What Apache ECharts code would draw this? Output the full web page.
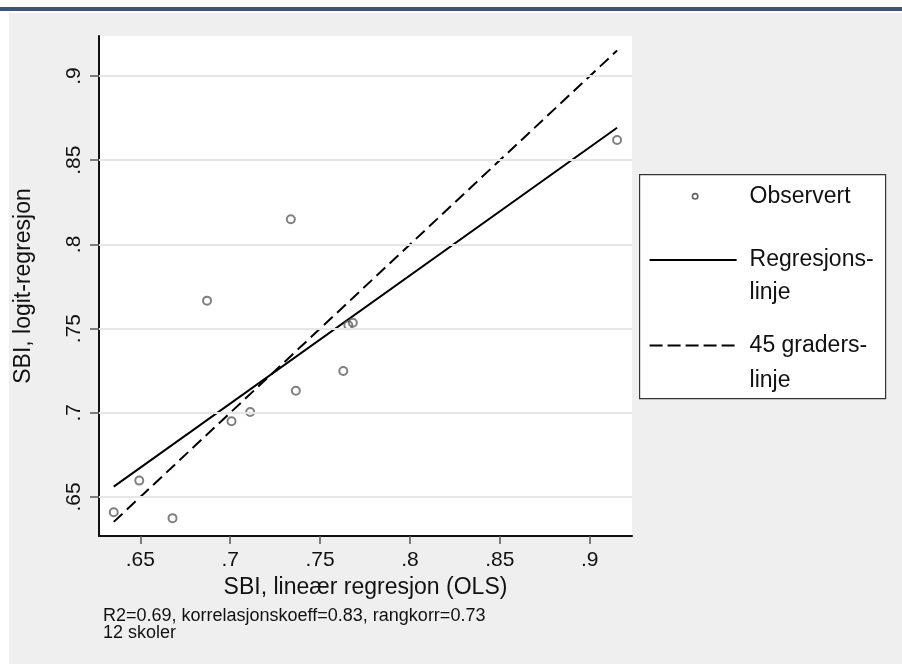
<!DOCTYPE html>
<html>
<head>
<meta charset="utf-8">
<script src="https://cdn.jsdelivr.net/npm/echarts@6/dist/echarts.min.js"></script>
<style>
  html, body { margin: 0; padding: 0; background: #ffffff; }
  #page { position: relative; width: 902px; height: 664px; overflow: hidden; background: #ffffff; }
  #bar { position: absolute; left: 0; top: 7px; width: 902px; height: 4px; background: #3e5379; }
  #panel { position: absolute; left: 9px; top: 13px; right: 0; bottom: 0; background: #efefef; }
  #chart { position: absolute; left: 0; top: 0; width: 902px; height: 664px; }
</style>
</head>
<body>
<div id="page">
  <div id="bar"></div>
  <div id="panel"></div>
  <div id="chart"></div>
</div>
<script>
// Skoler: SBI estimert med lineær regresjon (x) og logit-regresjon (y)
const obsX = [0.6352, 0.6494, 0.6679, 0.6871, 0.7007, 0.7111, 0.7337, 0.7365, 0.7629, 0.7657, 0.7682, 0.9152];
const obsY = [0.6409, 0.6597, 0.6374, 0.7666, 0.6950, 0.7005, 0.8149, 0.7131, 0.7248, 0.7520, 0.7535, 0.8620];

// Regresjonslinje (endepunkter)
const regX = [0.6352, 0.9152];
const regY = [0.6561, 0.8693];

// 45 graders-linje
const diagX = [0.6352, 0.9152];
const diagY = [0.6352, 0.9152];

// Aksemerker
const xTicks = [0.65, 0.70, 0.75, 0.80, 0.85, 0.90];
const yTicks = [0.65, 0.70, 0.75, 0.80, 0.85, 0.90];
const xRange = [0.627, 0.9235];
const yRange = [0.6268, 0.9238];

const xTitle = 'SBI, lineær regresjon (OLS)';
const yTitle = 'SBI, logit-regresjon';
const noteLines = ['R2=0.69, korrelasjonskoeff=0.83, rangkorr=0.73', '12 skoler'];
const legendNames = ['Observert', 'Regresjons-\nlinje', '45 graders-\nlinje'];

const FONT = '"Liberation Sans", Arial, Helvetica, sans-serif';
const fmt = v => String(+(+v).toFixed(2)).replace(/^0\./, '.');
const pairs = (xs, ys) => xs.map((x, i) => [x, ys[i]]);

const chart = echarts.init(document.getElementById('chart'), null, { renderer: 'canvas' });

const markerColor = '#606060';

chart.setOption({
  backgroundColor: 'transparent',
  animation: false,
  grid: {
    left: 99, top: 36, width: 533, height: 500,
    show: true, backgroundColor: '#ffffff', borderWidth: 0
  },
  xAxis: {
    type: 'value', min: xRange[0], max: xRange[1],
    name: xTitle, nameLocation: 'middle', nameGap: 38,
    nameTextStyle: { fontFamily: FONT, fontSize: 23, color: '#111' },
    axisLine: { show: true, onZero: false, lineStyle: { color: '#111', width: 2 } },
    axisTick: { show: true, length: 8, customValues: xTicks, lineStyle: { color: '#555', width: 1.5 } },
    axisLabel: { customValues: xTicks, formatter: fmt, margin: 14, fontFamily: FONT, fontSize: 21, color: '#111' },
    splitLine: { show: false }
  },
  yAxis: {
    type: 'value', min: yRange[0], max: yRange[1],
    name: yTitle, nameLocation: 'middle', nameGap: 64, nameRotate: 90,
    nameTextStyle: { fontFamily: FONT, fontSize: 23, color: '#111' },
    axisLine: { show: true, onZero: false, lineStyle: { color: '#111', width: 2 } },
    axisTick: { show: true, length: 9, customValues: yTicks, lineStyle: { color: '#555', width: 1.5 } },
    axisLabel: { customValues: yTicks, formatter: fmt, rotate: 90, margin: 14, fontFamily: FONT, fontSize: 21, color: '#111' },
    splitLine: { show: false }
  },
  series: [
    {
      // horisontale hjelpelinjer
      type: 'line', data: [], z: 1, silent: true,
      markLine: {
        silent: true, symbol: ['none', 'none'], label: { show: false },
        lineStyle: { color: '#e6e6e6', width: 2, type: 'solid' },
        emphasis: { disabled: true },
        data: yTicks.map(v => ({ yAxis: v }))
      }
    },
    {
      name: legendNames[2], type: 'line', data: pairs(diagX, diagY), z: 3,
      showSymbol: false, silent: true,
      lineStyle: { color: '#000', width: 2, type: [12, 6] }
    },
    {
      name: legendNames[1], type: 'line', data: pairs(regX, regY), z: 3,
      showSymbol: false, silent: true,
      lineStyle: { color: '#000', width: 2, type: 'solid' }
    },
    {
      name: legendNames[0], type: 'scatter', data: pairs(obsX, obsY), z: 4,
      symbol: 'circle', symbolSize: 8,
      itemStyle: { color: 'rgba(0,0,0,0)', borderColor: markerColor, borderWidth: 2 }
    }
  ],
  graphic: [
    {
      type: 'group', left: 639, top: 174, z: 10,
      children: [
        { type: 'rect', shape: { x: 0, y: 0, width: 246, height: 224 },
          style: { fill: '#ffffff', stroke: '#333', lineWidth: 1.2 } },
        { type: 'circle', shape: { cx: 55.5, cy: 21.7, r: 2.7 },
          style: { fill: 'rgba(0,0,0,0)', stroke: markerColor, lineWidth: 1.6 } },
        { type: 'text', x: 110, y: 21.7,
          style: { text: legendNames[0], font: '23px ' + FONT, fill: '#111', verticalAlign: 'middle' } },
        { type: 'line', shape: { x1: 10, y1: 85.3, x2: 97, y2: 85.3 },
          style: { stroke: '#000', lineWidth: 2 } },
        { type: 'text', x: 110, y: 101.5,
          style: { text: legendNames[1], font: '23px ' + FONT, lineHeight: 32.4, fill: '#111', verticalAlign: 'middle' } },
        { type: 'line', shape: { x1: 10, y1: 171, x2: 97, y2: 171 },
          style: { stroke: '#000', lineWidth: 2, lineDash: [13, 5] } },
        { type: 'text', x: 110, y: 188.5,
          style: { text: legendNames[2], font: '23px ' + FONT, lineHeight: 35, fill: '#111', verticalAlign: 'middle' } }
      ]
    },
    {
      type: 'text', left: 103, top: 607, z: 10,
      style: { text: noteLines.join('\n'), font: '18px ' + FONT, lineHeight: 17, fill: '#111' }
    }
  ]
});
</script>
</body>
</html>
